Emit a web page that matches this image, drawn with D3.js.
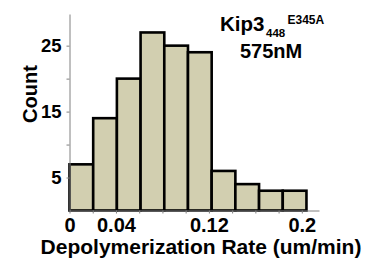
<!DOCTYPE html>
<html>
<head>
<meta charset="utf-8">
<script src="https://cdn.jsdelivr.net/npm/d3@7"></script>
<style>
  html, body { margin: 0; padding: 0; background: #fff; }
  svg { display: block; font-family: "Liberation Sans", Arial, sans-serif; font-weight: bold; }
  .axis path, .axis line { stroke: #808080; stroke-width: 1; }
  .axis text { fill: #000; font-weight: bold; }
</style>
</head>
<body>
<svg id="chart" width="365" height="261"></svg>
<script>
// bin edges (um/min) and counts
const binEdges = [0, 0.0204, 0.0408, 0.0612, 0.0816, 0.102, 0.1224, 0.1428, 0.1632, 0.1836, 0.204];
const counts = [7, 14, 20, 27, 25, 24, 6, 4, 3, 3];

const xTicks = [0, 0.02, 0.04, 0.06, 0.08, 0.1, 0.12, 0.14, 0.16, 0.18, 0.2];
const xLabels = { 0: "0", 0.04: "0.04", 0.12: "0.12", 0.2: "0.2" };
const yTicks = [5, 10, 15, 20, 25];
const yLabels = [5, 15, 25];

const svg = d3.select("#chart");

const x = d3.scaleLinear().domain([0, 0.2148]).range([69.5, 319]);
const y = d3.scaleLinear().domain([0, 29.8]).range([210.5, 14]);

const bins = counts.map((c, i) => ({ x0: binEdges[i], x1: binEdges[i + 1], n: c }));

svg.append("g")
  .selectAll("rect")
  .data(bins)
  .join("rect")
  .attr("x", d => x(d.x0))
  .attr("y", d => y(d.n))
  .attr("width", d => x(d.x1) - x(d.x0))
  .attr("height", d => y(0) - y(d.n))
  .attr("fill", "#d2cfb0")
  .attr("stroke", "#000")
  .attr("stroke-width", 2.6);

/* ---- axes ---- */

const gx = svg.append("g")
  .attr("class", "axis")
  .attr("transform", `translate(0,${y(0)})`)
  .call(d3.axisBottom(x)
    .tickValues(xTicks)
    .tickSize(3)
    .tickSizeOuter(0)
    .tickPadding(4)
    .tickFormat(d => xLabels[d] || ""));
gx.selectAll("text").attr("font-size", 20).attr("dy", "0.74em");

const gy = svg.append("g")
  .attr("class", "axis")
  .attr("transform", `translate(${x(0)},0)`)
  .call(d3.axisLeft(y)
    .tickValues(yTicks)
    .tickSize(3)
    .tickSizeOuter(0)
    .tickPadding(5)
    .tickFormat(d => yLabels.includes(d) ? d : ""));
gy.selectAll("text").attr("font-size", 18.5);

svg.append("text")
  .attr("transform", "translate(37,94) rotate(-90)")
  .attr("text-anchor", "middle")
  .attr("font-size", 20)
  .text("Count");

svg.append("text")
  .attr("x", 201)
  .attr("y", 254)
  .attr("text-anchor", "middle")
  .attr("font-size", 21)
  .text("Depolymerization Rate (um/min)");

/* ---- label ---- */

const lab = svg.append("text").attr("font-size", 20.5);
lab.append("tspan").attr("x", 220).attr("y", 30.7).text("Kip3");
lab.append("tspan").attr("x", 266).attr("y", 36.8).attr("font-size", 11.5).text("448");
lab.append("tspan").attr("x", 287.5).attr("y", 24).attr("font-size", 12).text("E345A");

svg.append("text")
  .attr("x", 240)
  .attr("y", 58)
  .attr("font-size", 20)
  .text("575nM");
</script>
</body>
</html>
